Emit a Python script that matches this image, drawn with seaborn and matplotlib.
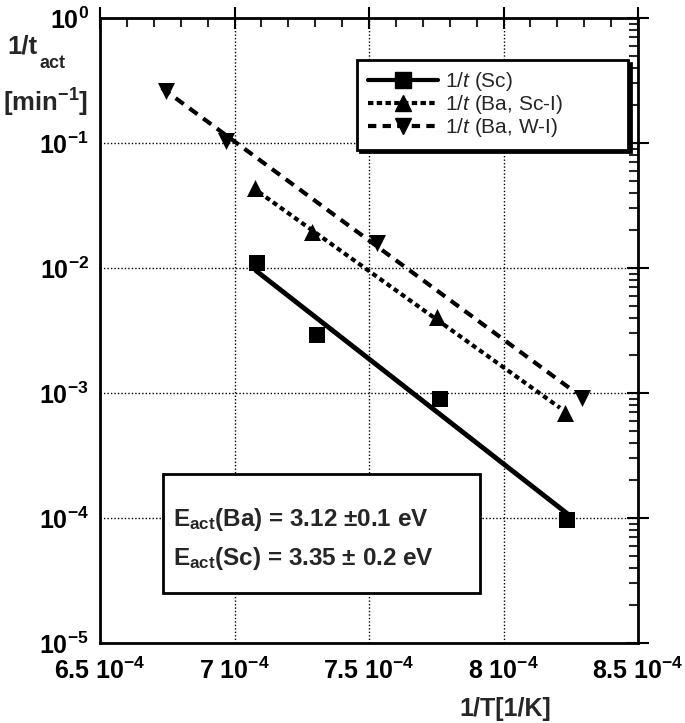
import numpy as np
import pandas as pd
import seaborn as sns
import matplotlib.pyplot as plt
from matplotlib.lines import Line2D
from matplotlib.patches import Rectangle, Shadow
from matplotlib.ticker import FuncFormatter, MultipleLocator, LogLocator

# measured points
inv_T_sc = [7.083e-4, 7.306e-4, 7.764e-4, 8.236e-4]
rate_sc = [1.1e-2, 2.9e-3, 8.9e-4, 9.6e-5]
inv_T_ba_sc = [7.076e-4, 7.288e-4, 7.753e-4, 8.229e-4]
rate_ba_sc = [4.4e-2, 1.95e-2, 4.05e-3, 6.9e-4]
inv_T_ba_w = [6.745e-4, 6.968e-4, 7.53e-4, 8.29e-4]
rate_ba_w = [0.26, 0.104, 0.0158, 9.1e-4]

# Arrhenius fit lines (end points)
fit_sc_x = [7.08e-4, 8.24e-4]
fit_sc_y = [9.5e-3, 1.07e-4]
fit_ba_sc_x = [7.09e-4, 8.21e-4]
fit_ba_sc_y = [0.0405, 7.6e-4]
fit_ba_w_x = [6.73e-4, 8.27e-4]
fit_ba_w_y = [0.275, 1.0e-3]

labels = ['1/$\\mathit{t}$ (Sc)', '1/$\\mathit{t}$ (Ba, Sc-I)', '1/$\\mathit{t}$ (Ba, W-I)']
energies = ['E$_{act}$(Ba) = 3.12 $\\pm$0.1 eV', 'E$_{act}$(Sc) = 3.35 $\\pm$ 0.2 eV']

sns.set_style('white')
plt.rcParams['font.family'] = ['Liberation Sans', 'DejaVu Sans']
plt.rcParams['font.weight'] = 'bold'
plt.rcParams['mathtext.fontset'] = 'custom'
plt.rcParams['mathtext.default'] = 'regular'
plt.rcParams['mathtext.it'] = 'Liberation Sans:style=italic:weight=normal'
plt.rcParams['mathtext.rm'] = 'Liberation Sans'

fig = plt.figure(figsize=(6.85, 7.23), dpi=100)
ax = fig.add_axes([0.146, 0.1107, 0.7854, 0.8645])

dot_ls = (0, (1.2, 0.9))
dash_ls = (0, (2.4, 1.7))

sns.lineplot(x=fit_sc_x, y=fit_sc_y, ax=ax, color='black', lw=3.5, linestyle='-')
sns.lineplot(x=fit_ba_sc_x, y=fit_ba_sc_y, ax=ax, color='black', lw=3, linestyle=dot_ls)
sns.lineplot(x=fit_ba_w_x, y=fit_ba_w_y, ax=ax, color='black', lw=3, linestyle=dash_ls)

sns.scatterplot(x=inv_T_sc, y=rate_sc, ax=ax, color='black', marker='s', s=130, linewidth=0, zorder=5)
sns.scatterplot(x=inv_T_ba_sc, y=rate_ba_sc, ax=ax, color='black', marker='^', s=150, linewidth=0, zorder=5)
sns.scatterplot(x=inv_T_ba_w, y=rate_ba_w, ax=ax, color='black', marker='v', s=150, linewidth=0, zorder=5)

ax.set_yscale('log')
ax.set_xlim(6.5e-4, 8.5e-4)
ax.set_ylim(1e-5, 1)

ax.xaxis.set_major_locator(MultipleLocator(0.5e-4))
ax.xaxis.set_minor_locator(MultipleLocator(0.1e-4))
ax.yaxis.set_major_locator(LogLocator(base=10, numticks=10))
ax.yaxis.set_minor_locator(LogLocator(base=10, subs=np.arange(2, 10), numticks=20))
ax.xaxis.set_major_formatter(FuncFormatter(lambda v, p: f'{v * 1e4:g} 10$^{{-4}}$'))
ax.yaxis.set_major_formatter(FuncFormatter(lambda v, p: f'10$^{{{int(round(np.log10(v)))}}}$'))

ax.tick_params(which='major', direction='inout', length=16, width=1.5, labelsize=18,
               top=True, right=True, pad=0, colors='black')
ax.tick_params(axis='x', which='major', pad=2.5)
ax.tick_params(which='minor', direction='in', length=6.5, width=1.5, top=True, right=True)
for sp in ax.spines.values():
    sp.set_linewidth(2)
    sp.set_color('black')

ax.grid(True, which='major', color='black', linestyle=(0, (1, 1.5)), lw=1)
ax.set_axisbelow(True)

ax.set_xlabel('1/T[1/K]', fontsize=18, fontweight='bold')
ax.xaxis.set_label_coords(0.753, -0.087)

fig.text(7 / 685, 1 - 53 / 723, '1/t', fontsize=18.5, fontweight='bold', va='baseline', ha='left')
fig.text(40 / 685, 1 - 68 / 723, 'act', fontsize=13, fontweight='bold', va='baseline', ha='left')
fig.text(3 / 685, 1 - 112 / 723, '[min$^{-1}$]', fontsize=18.5, fontweight='bold', va='baseline', ha='left')

handles = [
    Line2D([], [], color='black', lw=3, marker='s', ms=11, linestyle='-'),
    Line2D([], [], color='black', lw=3, marker='^', ms=11, linestyle=(0, (1.3, 0.8))),
    Line2D([], [], color='black', lw=3, marker='v', ms=11, linestyle=(0, (2, 1.5))),
]
leg = ax.legend(handles, labels, loc='upper left', mode='expand',
                bbox_to_anchor=(0.478, 0.0, 0.504, 0.933),
                borderaxespad=0, fancybox=False, framealpha=1, edgecolor='black',
                prop={'family': 'Liberation Sans', 'weight': 'normal', 'size': 15},
                handlelength=3.4, handletextpad=0.3, labelspacing=0.0, borderpad=0.5,
                shadow={'color': 'black', 'alpha': 1})
leg.get_frame().set_linewidth(2)

box = Rectangle((0.117, 0.08), 0.589, 0.19, transform=ax.transAxes, fc='white', ec='black',
                lw=2, zorder=6)
ax.add_patch(box)
sh = Shadow(box, -2, -2, color='black', alpha=1, zorder=5.5)
ax.add_patch(sh)
ax.text(0.136, 0.187, energies[0], transform=ax.transAxes, fontsize=17.5, fontweight='bold',
        va='baseline', ha='left', zorder=7)
ax.text(0.136, 0.125, energies[1], transform=ax.transAxes, fontsize=17.5, fontweight='bold',
        va='baseline', ha='left', zorder=7)

fig.savefig('out.png', dpi=100)
